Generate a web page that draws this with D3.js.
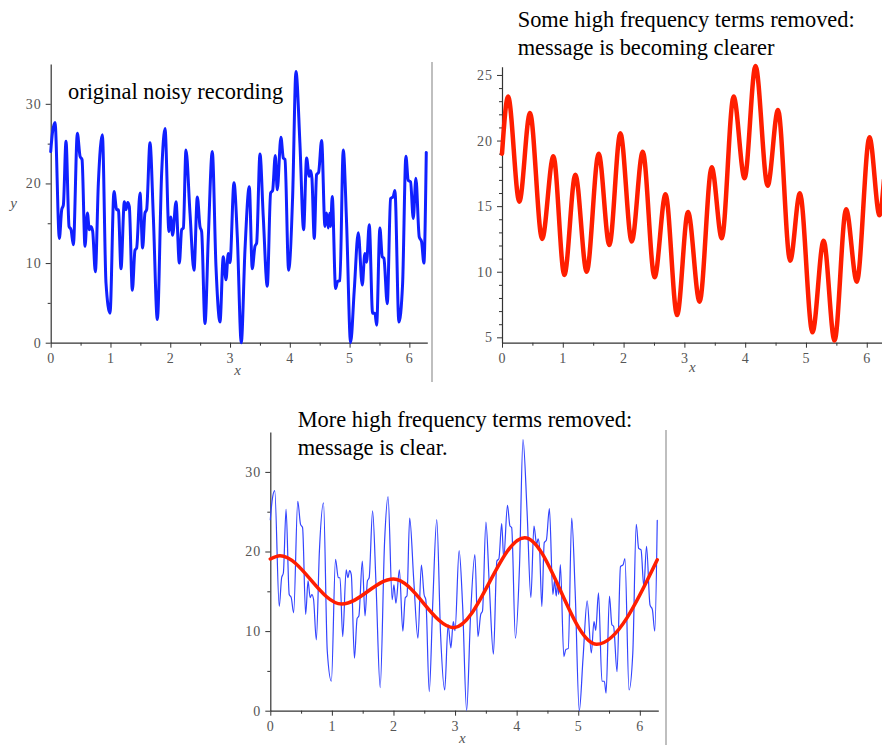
<!DOCTYPE html>
<html>
<head>
<meta charset="utf-8">
<script src="https://cdn.jsdelivr.net/npm/d3@7"></script>
<style>
  html, body { margin: 0; padding: 0; background: #fff; }
  svg { display: block; }
  .tick text { font-family: "Liberation Serif", "Times New Roman", serif; }
</style>
</head>
<body>
<svg id="chart" width="882" height="745"></svg>
<script>
// ---------- DATA ----------
// Original noisy recording (x, y)
const noisyX = [0, 0.028, 0.072, 0.145, 0.184, 0.212, 0.256, 0.307, 0.340, 0.379, 0.446, 0.491, 0.524, 0.574, 0.613, 0.647, 0.674, 0.702, 0.747, 0.797, 0.864, 0.925, 0.992, 1.059, 1.104, 1.132, 1.176, 1.232, 1.260, 1.288, 1.315, 1.366, 1.410, 1.438, 1.494, 1.538, 1.577, 1.605, 1.661, 1.717, 1.784, 1.856, 1.912, 1.979, 2.007, 2.040, 2.096, 2.152, 2.191, 2.219, 2.263, 2.330, 2.397, 2.453, 2.497, 2.525, 2.581, 2.637, 2.703, 2.765, 2.832, 2.887, 2.932, 2.971, 2.999, 3.066, 3.122, 3.188, 3.250, 3.322, 3.372, 3.417, 3.445, 3.501, 3.556, 3.623, 3.679, 3.712, 3.757, 3.790, 3.851, 3.891, 3.919, 3.980, 4.047, 4.103, 4.169, 4.231, 4.281, 4.325, 4.348, 4.370, 4.409, 4.448, 4.482, 4.532, 4.588, 4.615, 4.643, 4.666, 4.682, 4.710, 4.766, 4.799, 4.838, 4.894, 4.950, 5.017, 5.078, 5.145, 5.212, 5.256, 5.284, 5.329, 5.385, 5.424, 5.452, 5.507, 5.546, 5.574, 5.630, 5.686, 5.730, 5.758, 5.825, 5.886, 5.942, 5.981, 6.020, 6.065, 6.109, 6.165, 6.204, 6.243, 6.283];
const noisyY = [24.0, 26.3, 27.65, 13.1, 16.7, 17.3, 25.3, 14.6, 14.2, 12.3, 26.3, 23.4, 23.0, 12.1, 16.3, 14.2, 14.6, 14.0, 8.9, 20.0, 26.1, 7.5, 3.7, 19.0, 16.7, 16.7, 9.3, 17.7, 16.7, 17.6, 17.1, 6.6, 11.6, 11.9, 18.8, 11.9, 16.3, 16.7, 25.1, 15.8, 2.9, 21.3, 26.9, 13.95, 15.8, 13.5, 17.7, 10.0, 14.2, 14.4, 24.2, 16.3, 9.1, 18.3, 14.6, 13.95, 2.4, 13.3, 24.0, 9.55, 2.6, 10.8, 7.9, 11.2, 10.05, 20.1, 13.3, 0.0, 11.65, 19.6, 9.3, 12.1, 12.5, 23.7, 15.8, 7.1, 18.8, 19.1, 23.5, 19.2, 25.8, 23.2, 23.0, 9.1, 18.3, 34.05, 25.05, 14.2, 23.2, 20.9, 21.6, 20.65, 13.1, 21.1, 21.4, 25.4, 14.6, 16.3, 14.4, 16.25, 14.6, 18.35, 6.8, 7.7, 7.8, 24.2, 15.0, 0.0, 6.6, 13.8, 7.25, 11.2, 10.1, 14.8, 3.7, 3.7, 2.2, 14.4, 10.8, 10.6, 4.9, 18.1, 18.35, 19.1, 2.6, 7.25, 23.4, 20.4, 20.2, 15.6, 20.65, 13.3, 12.7, 10.0, 23.9];

// Some high-frequency terms removed (turning points)
const partialX = [0, 0.10, 0.285, 0.46, 0.66, 0.845, 1.026, 1.207, 1.393, 1.59, 1.766, 1.947, 2.134, 2.315, 2.51, 2.69, 2.88, 3.06, 3.25, 3.45, 3.615, 3.81, 3.99, 4.17, 4.37, 4.54, 4.74, 4.90, 5.107, 5.29, 5.47, 5.66, 5.837, 6.045, 6.21, 6.283];
const partialY = [19.0, 23.35, 15.34, 22.1, 12.5, 18.8, 9.75, 17.4, 10.0, 19.0, 12.04, 20.55, 12.3, 19.15, 9.57, 15.9, 6.7, 14.55, 7.72, 17.96, 12.55, 23.35, 17.12, 25.69, 16.56, 22.33, 10.84, 15.98, 5.38, 12.37, 4.75, 14.76, 9.24, 20.25, 14.3, 17.0];

// More high-frequency terms removed (turning points)
const smoothX = [0, 0.157, 1.16, 2.0, 2.98, 4.13, 5.30, 6.283];
const smoothY = [19.06, 19.48, 13.4, 16.55, 10.43, 21.74, 8.34, 18.95];

// Axis ticks
const xMajorTicks = [0, 1, 2, 3, 4, 5, 6];
const xMinorTicks = [0.5, 1.5, 2.5, 3.5, 4.5, 5.5];
const yMajorTicksA = [0, 10, 20, 30];
const yMinorTicksA = [5, 15, 25];
const yMajorTicksB = [5, 10, 15, 20, 25];
const yMinorTicksB = [6, 7, 8, 9, 11, 12, 13, 14, 16, 17, 18, 19, 21, 22, 23, 24];

// Titles
const title1 = ["original noisy recording"];
const title2 = ["Some high frequency terms removed:", "message is becoming clearer"];
const title3 = ["More high frequency terms removed:", "message is clear."];

// ---------- DRAWING ----------
const svg = d3.select("#chart");
const SERIF = '"Liberation Serif", "Times New Roman", Times, serif';
const AXIS_COL = "#333";
const LABEL_COL = "#555";

const noisy = noisyX.map((x, i) => ({x, y: noisyY[i]}));
const partial = partialX.map((x, i) => ({x, y: partialY[i]}));
const smooth = smoothX.map((x, i) => ({x, y: smoothY[i]}));

function panel(opts) {
  const x = d3.scaleLinear().domain(opts.xDomain).range([opts.left, opts.right]);
  const y = d3.scaleLinear().domain(opts.yDomain).range([opts.bottom, opts.top]);
  const g = svg.append("g");

  // minor ticks
  const gxm = g.append("g").attr("transform", `translate(0,${opts.bottom})`)
    .call(d3.axisBottom(x).tickValues(xMinorTicks).tickSize(3).tickFormat(""));
  gxm.select(".domain").remove();
  const gym = g.append("g").attr("transform", `translate(${opts.left},0)`)
    .call(d3.axisLeft(y).tickValues(opts.yMinor).tickSize(3).tickFormat(""));
  gym.select(".domain").remove();

  // major axes
  const gx = g.append("g").attr("transform", `translate(0,${opts.bottom})`)
    .call(d3.axisBottom(x).tickValues(xMajorTicks).tickSize(5).tickPadding(5).tickSizeOuter(0).tickFormat(d3.format("d")));
  const gy = g.append("g").attr("transform", `translate(${opts.left},0)`)
    .call(d3.axisLeft(y).tickValues(opts.yMajor).tickSize(5).tickPadding(4).tickSizeOuter(0).tickFormat(d3.format("d")));

  g.selectAll(".domain").attr("stroke", AXIS_COL).attr("stroke-width", 1.2);
  g.selectAll(".tick line").attr("stroke", AXIS_COL).attr("stroke-width", 1);
  g.selectAll(".tick text")
    .attr("fill", LABEL_COL)
    .style("font-family", SERIF)
    .style("font-size", "14px")
    .style("letter-spacing", "1px");

  // x label
  g.append("text")
    .attr("x", opts.xLabelPos[0]).attr("y", opts.xLabelPos[1])
    .attr("text-anchor", "middle")
    .attr("fill", LABEL_COL)
    .style("font-family", SERIF).style("font-style", "italic").style("font-size", "15px")
    .text("x");
  if (opts.yLabelPos) {
    g.append("text")
      .attr("x", opts.yLabelPos[0]).attr("y", opts.yLabelPos[1])
      .attr("text-anchor", "middle")
      .attr("fill", LABEL_COL)
      .style("font-family", SERIF).style("font-style", "italic").style("font-size", "15px")
      .text("y");
  }

  const line = d3.line().x(d => x(d.x)).y(d => y(d.y));
  opts.series.forEach(s => {
    g.append("path")
      .datum(s.data)
      .attr("fill", "none")
      .attr("stroke", s.color)
      .attr("stroke-width", s.width)
      .attr("stroke-linejoin", "round")
      .attr("stroke-linecap", "round")
      .attr("d", line.curve(s.curve)(s.data));
  });

  // title
  const t = g.append("text")
    .attr("fill", "#000")
    .style("font-family", SERIF)
    .style("font-size", "22.4px");
  opts.title.forEach((ln, i) => {
    t.append("tspan").attr("x", opts.titlePos[0]).attr("y", opts.titlePos[1] + i * 28).text(ln);
  });
}

panel({
  left: 50.7, right: 427.3, top: 64, bottom: 342.7,
  xDomain: [0, 6.3], yDomain: [0, 35],
  yMajor: yMajorTicksA, yMinor: yMinorTicksA,
  xLabelPos: [237.5, 375], yLabelPos: [13.5, 208],
  title: title1, titlePos: [68, 99],
  series: [{data: noisy, color: "#1020ff", width: 3, curve: d3.curveMonotoneX}]
});

panel({
  left: 502, right: 885, top: 66.7, bottom: 342.7,
  xDomain: [0, 6.3], yDomain: [4.59, 25.63],
  yMajor: yMajorTicksB, yMinor: yMinorTicksB,
  xLabelPos: [692.3, 372], yLabelPos: null,
  title: title2, titlePos: [517.7, 27],
  series: [{data: partial, color: "#ff1e00", width: 4.5, curve: d3.curveMonotoneX}]
});

panel({
  left: 270.3, right: 658.3, top: 432.1, bottom: 710.7,
  xDomain: [0, 6.3], yDomain: [0, 35],
  yMajor: yMajorTicksA, yMinor: yMinorTicksA,
  xLabelPos: [462.3, 743], yLabelPos: null,
  title: title3, titlePos: [297.7, 427],
  series: [
    {data: noisy, color: "#3344ff", width: 1.2, curve: d3.curveMonotoneX},
    {data: smooth, color: "#ff1e00", width: 3.5, curve: d3.curveMonotoneX}
  ]
});

// divider lines
svg.append("line").attr("x1", 432).attr("x2", 432).attr("y1", 62).attr("y2", 382)
  .attr("stroke", "#aaa").attr("stroke-width", 1.5);
svg.append("line").attr("x1", 666).attr("x2", 666).attr("y1", 430).attr("y2", 745)
  .attr("stroke", "#aaa").attr("stroke-width", 1.5);
</script>
</body>
</html>
